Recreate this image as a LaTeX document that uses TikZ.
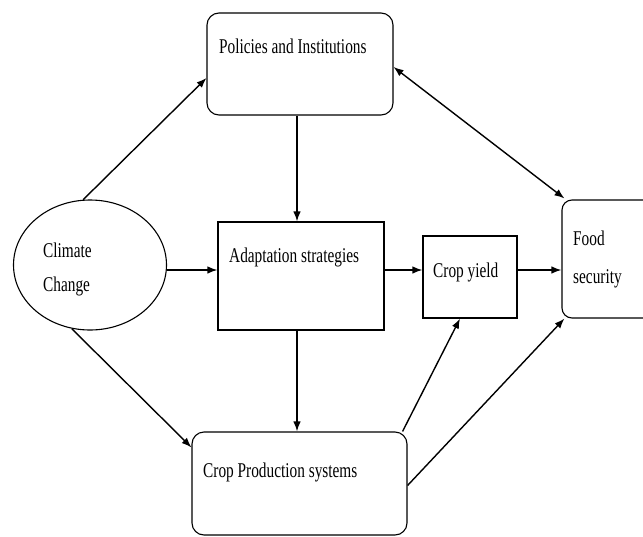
\documentclass[tikz,border=0pt]{standalone}
\usepackage{fontspec}
\setmainfont{Liberation Serif}[FakeStretch=0.73]
\usetikzlibrary{arrows.meta,shapes.geometric}
\begin{document}
\begin{tikzpicture}[x=1pt,y=-1pt,
  box/.style={draw, line width=1.1pt, inner sep=0pt, fill=white},
  rbox/.style={box, rounded corners=12pt},
  txt/.style={anchor=base west, inner sep=0pt, font=\fontsize{21}{31}\selectfont},
  arr/.style={line width=1.4pt, -{Latex[length=10pt,width=7.5pt]}},
  darr/.style={line width=1.4pt, {Latex[length=10pt,width=7.5pt]}-{Latex[length=10pt,width=7.5pt]}},
]
\useasboundingbox (0,0) rectangle (643,536);
\node[box, ellipse, minimum width=153pt, minimum height=130pt] (cc) at (90,265) {};
\node[rbox, minimum width=186pt, minimum height=102pt] (pol) at (300,64) {};
\node[box, minimum width=166pt, minimum height=108pt] (adapt) at (301,276) {};
\node[box, minimum width=94pt, minimum height=82pt] (cy) at (470,277) {};
\node[rbox, rounded corners=10pt, minimum width=98pt, minimum height=118pt] (food) at (611,259) {};
\node[rbox, minimum width=215pt, minimum height=103pt] (cp) at (299.5,483.5) {};

\node[txt] (tpol) at (219,53) {Policies and Institutions};
\node[txt] (tcc1) at (43,257) {Climate};
\node[txt] (tcc2) at (43,291) {Change};
\node[txt] (tadapt) at (229,262) {Adaptation strategies};
\node[txt] (tcy) at (433,277) {Crop yield};
\node[txt] (tfood1) at (573,245) {Food};
\node[txt] (tfood2) at (573,283) {security};
\node[txt] (tcp) at (203,477) {Crop Production systems};

\draw[arr] (cc.96) -- ([yshift=-14pt]pol.west);
\draw[arr] ([yshift=-5pt]cc.east) -- ([yshift=-5pt]cc.east -| adapt.west);
\draw[arr] (cc.254) -- ([yshift=-16pt]cp.north west);
\draw[arr] ([xshift=-3pt]pol.south) -- ([xshift=-4pt]adapt.north);
\draw[arr] ([xshift=-4pt]adapt.south) -- ([xshift=-2.5pt]cp.north);
\draw[arr] ([yshift=6pt]adapt.east) -- ([yshift=6pt]adapt.east -| cy.west);
\draw[arr] ([yshift=7pt]cy.east) -- ([yshift=7pt]cy.east -| food.west);
\draw[darr] ([yshift=-3pt]pol.east) -- ([xshift=3pt,yshift=1pt]food.north west);
\draw[arr] ([xshift=-5pt]cp.north east) -- ([xshift=-10pt]cy.south);
\draw[arr] ([yshift=-2pt]cp.east) -- ([xshift=3pt]food.south west);
\end{tikzpicture}
\end{document}
